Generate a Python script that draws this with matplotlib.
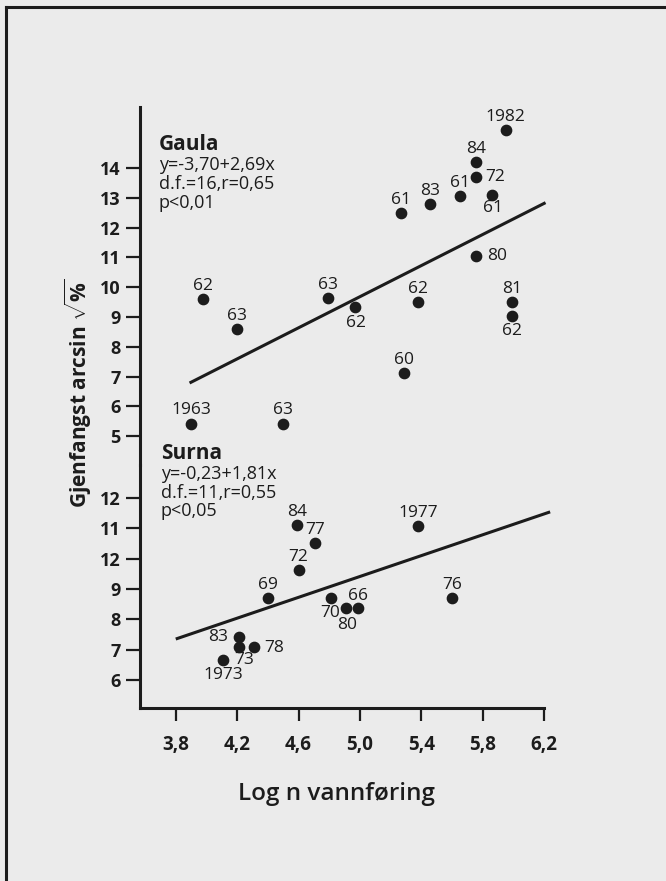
import matplotlib.pyplot as plt
import numpy as np

plt.rcParams['font.family'] = ['Open Sans', 'DejaVu Sans']
plt.rcParams['mathtext.fontset'] = 'custom'
plt.rcParams['mathtext.rm'] = 'Open Sans'
plt.rcParams['mathtext.bf'] = 'Open Sans:bold'
plt.rcParams['mathtext.default'] = 'bf'

ink = '#1c1c1c'
paper = '#ebebeb'

# Gaula
gaula_x = [3.98, 4.20, 4.79, 4.97, 5.27, 5.46, 5.65, 5.76, 5.76, 5.86,
           5.95, 5.76, 5.38, 5.99, 5.99, 5.29, 3.90, 4.50]
gaula_y = [9.60, 8.59, 9.63, 9.33, 12.49, 12.79, 13.06, 14.20, 13.70, 13.09,
           15.28, 11.05, 9.50, 9.50, 9.03, 7.12, 5.40, 5.40]
gaula_lab = ['62', '63', '63', '62', '61', '83', '61', '84', '72', '61',
             '1982', '80', '62', '81', '62', '60', '1963', '63']
# fitted line as drawn (intercept, slope, x range)
gaula_fit = (-3.37, 2.61)
gaula_fit_x = [3.89, 6.21]

# Surna
surna_x = [4.59, 4.71, 4.60, 4.40, 4.81, 4.91, 4.99, 4.215, 4.215, 4.31,
           4.11, 5.38, 5.60]
surna_y = [11.11, 10.51, 9.62, 8.70, 8.70, 8.37, 8.37, 7.41, 7.08, 7.08,
           6.65, 11.08, 8.70]
surna_lab = ['84', '77', '72', '69', '70', '80', '66', '83', '73', '78',
             '1973', '1977', '76']
surna_fit = (0.81, 1.72)
surna_fit_x = [3.80, 6.24]

x_ticks = [3.8, 4.2, 4.6, 5.0, 5.4, 5.8, 6.2]
x_ticklabels = ['3,8', '4,2', '4,6', '5,0', '5,4', '5,8', '6,2']
gaula_ticks = list(range(5, 15))
surna_ticks = [6, 7, 8, 9, 10, 11, 12]
surna_ticklabels = ['6', '7', '8', '9', '12', '11', '12']  # as printed

# label offsets in pixels (dx, dy) relative to each dot
up, dn = (0, 13), (0, -15)
gaula_off = [up, up, up, (1, -16), up, up, up, up, (15, 0), (1, -13),
             up, (17, 0), up, up, dn, up, (0, 14), (0, 14)]
surna_off = [up, up, up, up, (-1, -15), (1, -17), (0, 12), (-17, 0), (5, -13),
             (16, -1), (0, -15), up, up]

fig = plt.figure(figsize=(6.66, 8.81), dpi=100, facecolor=paper)

W, H = 666, 881
left, right = 140 / W, 544 / W
ax1 = fig.add_axes([left, 1 - 465 / H, right - left, (465 - 107) / H])
ax2 = fig.add_axes([left, 1 - 708 / H, right - left, (708 - 465) / H])

for ax in (ax1, ax2):
    ax.set_facecolor('none')
    ax.set_xlim(3.567, 6.2)
    for s in ('top', 'right'):
        ax.spines[s].set_visible(False)
    ax.spines['left'].set_linewidth(2.2)
    ax.spines['left'].set_color(ink)
    ax.tick_params(axis='y', direction='out', length=10, width=1.6, pad=4,
                   colors=ink, labelsize=13)

ax1.spines['bottom'].set_visible(False)
ax1.set_xticks([])
ax1.set_ylim(4.03, 16.05)
ax1.set_yticks(gaula_ticks)
ax1.set_yticklabels([str(t) for t in gaula_ticks], fontweight='bold')

ax2.set_ylim(5.07, 13.09)
ax2.set_yticks(surna_ticks)
ax2.set_yticklabels(surna_ticklabels, fontweight='bold')
ax2.spines['bottom'].set_linewidth(2.2)
ax2.spines['bottom'].set_color(ink)
ax2.set_xticks(x_ticks)
ax2.set_xticklabels(x_ticklabels, fontweight='bold')
ax2.tick_params(axis='x', direction='out', length=9.5, width=1.6, pad=10,
                colors=ink, labelsize=13.5)


def panel(ax, xs, ys, labs, offs, fit, fit_x):
    ax.scatter(xs, ys, s=55, color=ink, zorder=3, clip_on=False)
    for x, y, lab, (dx, dy) in zip(xs, ys, labs, offs):
        ha = 'center'
        if dx > 8:
            ha = 'left'
            dx -= 6
        elif dx < -8:
            ha = 'right'
            dx += 6
        ax.annotate(lab, (x, y), xytext=(dx, dy), textcoords='offset pixels',
                    ha=ha, va='center', fontsize=12.5, color=ink)
    fx = np.array(fit_x)
    ax.plot(fx, fit[0] + fit[1] * fx, color=ink, lw=2.2, clip_on=False,
            solid_capstyle='butt')


panel(ax1, gaula_x, gaula_y, gaula_lab, gaula_off, gaula_fit, gaula_fit_x)
panel(ax2, surna_x, surna_y, surna_lab, surna_off, surna_fit, surna_fit_x)

# panel statistics
blocks = [
    (159, 150, 'Gaula', ['y=-3,70+2,69x', 'd.f.=16,r=0,65', 'p<0,01'], 170.5),
    (161, 459, 'Surna', ['y=-0,23+1,81x', 'd.f.=11,r=0,55', 'p<0,05'], 479),
]
for x0, yb, title, lines, y1 in blocks:
    fig.text(x0 / W, 1 - yb / H, title, fontsize=15, fontweight='bold',
             color=ink, va='baseline')
    for i, line in enumerate(lines):
        fig.text(x0 / W, 1 - (y1 + 18.5 * i) / H, line, fontsize=13,
                 color=ink, va='baseline')

fig.text(78 / W, 1 - 393 / H, r'Gjenfangst arcsin $\sqrt{\%}$', rotation=90,
         ha='center', va='center', fontsize=15, fontweight='bold', color=ink)
fig.text(337 / W, 1 - 794 / H, 'Log n vannføring', ha='center', va='center',
         fontsize=17.5, fontweight='semibold', color=ink)

# page frame
fig.add_artist(plt.Line2D([6 / W, 6 / W], [0, 1 - 7 / H], color=ink, lw=2.2))
fig.add_artist(plt.Line2D([6 / W, 1], [1 - 7 / H, 1 - 7 / H], color=ink, lw=2.2))

fig.savefig('out.png', dpi=100, facecolor=paper)
